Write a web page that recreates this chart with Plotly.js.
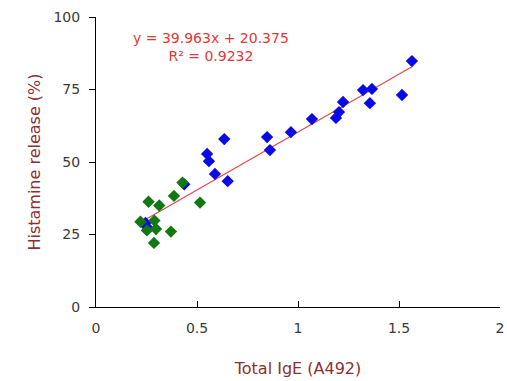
<!DOCTYPE html>
<html>
<head>
<meta charset="utf-8">
<script src="https://cdn.plot.ly/plotly-3.0.1.min.js"></script>
<style>html,body{margin:0;padding:0;background:#fff;}#chart{width:507px;height:381px;}</style>
</head>
<body>
<div id="chart"></div>
<script>
// Series 1 (blue)
const blueX = [1.564, 1.515, 1.356, 1.366, 1.322, 1.223, 1.203, 1.188, 1.069, 0.965, 0.847, 0.861, 0.635, 0.652, 0.589, 0.559, 0.550, 0.437, 0.245, 0.251];
const blueY = [84.8, 73.1, 70.3, 75.2, 74.8, 70.7, 67.2, 65.2, 64.8, 60.3, 58.6, 54.1, 57.9, 43.4, 45.9, 50.3, 52.8, 42.3, 29.0, 27.7];
// Series 2 (green)
const greenX = [0.428, 0.386, 0.260, 0.313, 0.515, 0.220, 0.289, 0.252, 0.297, 0.371, 0.287];
const greenY = [42.9, 38.3, 36.3, 35.0, 36.0, 29.4, 29.8, 26.4, 26.9, 26.0, 22.1];
// Linear trendline
const fitSlope = [39.963];
const fitIntercept = [20.375];
const fitR2 = [0.9232];
// Axis ticks
const xTicks = [0, 0.5, 1, 1.5, 2];
const xTickText = ['0', '0.5', '1', '1.5', '2'];
const yTicks = [0, 25, 50, 75, 100];
const yTickText = ['0', '25', '50', '75', '100'];

const xMin = Math.min(...blueX), xMax = Math.max(...blueX);
const lineX = [xMin, xMax];
const lineY = lineX.map(v => fitSlope[0] * v + fitIntercept[0]);

const FONT = 'DejaVu Sans, Arial, sans-serif';
const titleColor = '#8b3030';

const traces = [
  {x: lineX, y: lineY, mode: 'lines', line: {color: '#e04848', width: 1.2}, hoverinfo: 'skip'},
  {x: blueX, y: blueY, mode: 'markers', marker: {symbol: 'diamond', size: 9.5, color: '#0a0ae6'}},
  {x: greenX, y: greenY, mode: 'markers', marker: {symbol: 'diamond', size: 9.5, color: '#127812'}}
];

const layout = {
  width: 507, height: 381,
  margin: {l: 96, r: 7, t: 17, b: 74},
  paper_bgcolor: '#fff', plot_bgcolor: '#fff',
  showlegend: false,
  font: {family: FONT, size: 14, color: '#3a3a3a'},
  xaxis: {
    range: [0, 2], tickvals: xTicks, ticktext: xTickText,
    showgrid: false, zeroline: false, showline: true, linecolor: '#000', linewidth: 1,
    ticks: 'inside', ticklen: 6, tickcolor: '#000',
    tickfont: {family: FONT, size: 14, color: '#3a3a3a'},
    ticklabelstandoff: 8,
    title: {text: 'Total IgE (A492)', font: {family: FONT, size: 16, color: titleColor}, standoff: 28}
  },
  yaxis: {
    range: [0, 100], tickvals: yTicks, ticktext: yTickText,
    showgrid: false, zeroline: false, showline: true, linecolor: '#000', linewidth: 1,
    ticks: 'outside', ticklen: 6, tickcolor: '#000',
    tickfont: {family: FONT, size: 14, color: '#3a3a3a'},
    ticklabelstandoff: 6,
    title: {text: 'Histamine release (%)', font: {family: FONT, size: 16, color: titleColor}, standoff: 8}
  },
  annotations: [
    {xref: 'paper', yref: 'paper', x: 0.285, y: 0.895, xanchor: 'center', yanchor: 'middle', showarrow: false,
     align: 'center',
     text: 'y = ' + fitSlope[0].toFixed(3) + 'x + ' + fitIntercept[0].toFixed(3) + '<br>R² = ' + fitR2[0],
     font: {family: FONT, size: 14, color: '#e03838'}}
  ]
};

Plotly.newPlot('chart', traces, layout, {displayModeBar: false, staticPlot: true});
</script>
</body>
</html>
